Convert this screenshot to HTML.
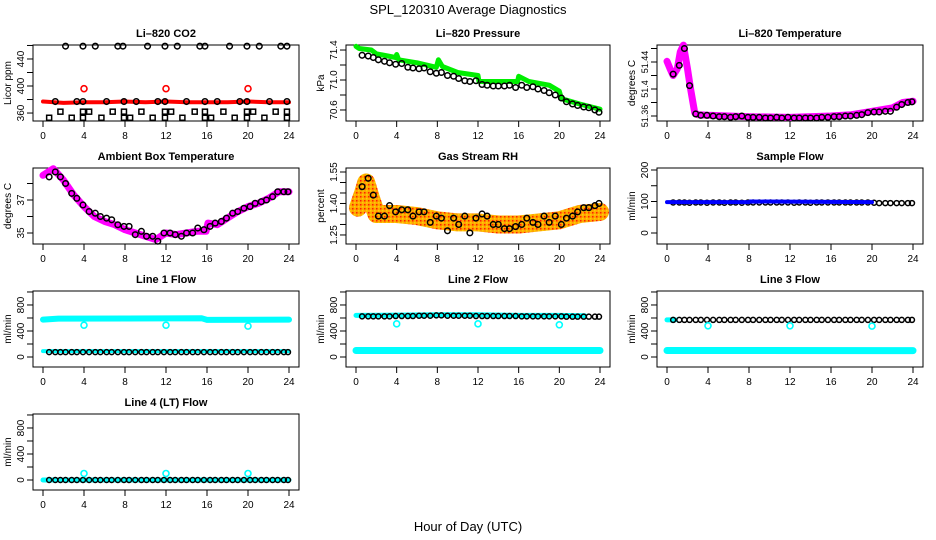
<!DOCTYPE html>
<html><head><meta charset="utf-8"><style>
html,body{margin:0;padding:0;background:#fff;}
svg{display:block;font-family:"Liberation Sans",sans-serif;}
</style></head><body>
<svg id="chart" width="936" height="540" viewBox="0 0 936 540" xmlns="http://www.w3.org/2000/svg">
<defs>
<pattern id="rhpat" width="4" height="4" patternUnits="userSpaceOnUse">
<rect width="4" height="4" fill="#FFA500"/><rect width="1.5" height="1.5" fill="#FF2000"/><rect x="2" y="2" width="1.5" height="1.5" fill="#FFD000"/>
</pattern>
</defs>
<text x="468" y="14" text-anchor="middle" font-size="13">SPL_120310  Average Diagnostics</text>
<text x="468" y="531" text-anchor="middle" font-size="13">Hour of Day (UTC)</text>
</svg>
<script>
// ---- data ----
const blackHours = [0.6,1.2,1.7,2.2,2.8,3.3,3.9,4.5,5.1,5.6,6.2,6.7,7.3,7.9,8.4,9.0,9.6,10.1,10.7,11.2,11.8,12.4,12.9,13.5,14.0,14.6,15.1,15.7,16.3,16.8,17.4,17.9,18.5,19.0,19.6,20.2,20.7,21.3,21.8,22.4,22.9,23.5,23.9];
const xTicks = [0,4,8,12,16,20,24];
// CO2
const co2RedHours = [0,2,4,6,8,10,12,14,16,18,20,22,24];
const co2RedVals = [377,375,376,376,377,376,377,376,376,376,377,376,376];
const co2SpikeHours = [4,12,20];
const co2SpikeVals = [396,396,396];
const co2TopHours = [2.2,3.9,5.1,7.3,7.8,10.2,11.9,13.1,15.3,15.8,18.2,19.9,21.1,23.2,23.8];
const co2TopVals = [459,459,459,459,459,459,459,459,459,459,459,459,459,459,459];
const co2MidHours = [1.2,3.3,3.9,6.2,7.9,9.1,11.2,11.9,14.0,15.8,17.0,19.2,19.9,22.1,23.8];
const co2MidVals = [377,377,377,377,377,377,377,377,377,377,377,377,377,377,377];
const co2LowHours = [1.7,3.9,4.5,6.8,7.9,9.6,11.9,12.5,14.8,15.8,17.6,19.9,20.5,22.7,23.8];
const co2LowVals = [362,362,362,362,362,362,362,362,362,362,362,362,362,362,362];
const co2BotHours = [0.6,2.8,3.9,5.7,7.9,8.5,10.7,11.9,13.6,15.8,16.4,18.7,19.9,21.6,23.8];
const co2BotVals = [353,353,353,353,353,353,353,353,353,353,353,353,353,353,353];
// Pressure
const presGreenHours = [0,0.3,1.5,2,3.9,4,4.2,6,7.9,8.1,8.5,10,12,12.1,15.9,16,17,19,20,20.2,22,24];
const presGreenVals = [71.45,71.42,71.40,71.35,71.30,71.34,71.27,71.23,71.17,71.27,71.18,71.10,71.06,70.98,70.98,71.05,70.98,70.93,70.85,70.75,70.68,70.61];
const presBlack = [71.33,71.32,71.30,71.27,71.25,71.23,71.21,71.22,71.17,71.16,71.15,71.16,71.11,71.09,71.10,71.06,71.05,71.02,70.99,70.98,70.99,70.94,70.93,70.92,70.92,70.92,70.93,70.90,70.93,70.90,70.91,70.88,70.86,70.83,70.80,70.76,70.71,70.68,70.66,70.64,70.63,70.60,70.57];
// Li-820 temperature
const ltHours = [0,0.3,0.6,1,1.3,1.6,2,2.3,2.7,3,4,8,12,16,18,20,22,23,24];
const ltVals = [51.441,51.43,51.42,51.43,51.455,51.465,51.43,51.40,51.365,51.362,51.361,51.359,51.358,51.36,51.362,51.367,51.372,51.38,51.382];
const ltBlack = [51.422,51.435,51.46,51.405,51.363,51.361,51.361,51.360,51.359,51.359,51.358,51.359,51.360,51.358,51.358,51.358,51.357,51.357,51.358,51.357,51.358,51.357,51.357,51.357,51.357,51.357,51.358,51.358,51.359,51.359,51.360,51.360,51.361,51.362,51.365,51.366,51.366,51.367,51.367,51.373,51.377,51.380,51.381];
// Ambient box temperature
const ambHours = [0,1,2,3,4,5,6,7,8,9,10,11,12,13,14,15,15.9,16.1,17,18,19,20,21,22,23,24];
const ambVals = [38.5,38.9,38.2,37.3,36.6,36.0,35.7,35.5,35.2,35.0,34.8,34.6,35.0,34.9,35.0,35.1,35.1,35.6,35.5,35.9,36.3,36.6,36.8,37.1,37.5,37.5];
const ambBlack = [38.4,38.7,38.4,38.0,37.4,37.1,36.7,36.3,36.2,36.0,35.9,35.8,35.5,35.4,35.4,34.9,35.1,34.8,34.8,34.5,35.0,35.0,34.9,34.8,35.0,35.0,35.3,35.2,35.4,35.6,35.7,35.9,36.2,36.3,36.5,36.6,36.8,36.9,37.0,37.2,37.5,37.5,37.5];
// Gas stream RH
const rhHours = [0.2,0.7,1.0,1.5,2,4,6,8,10,12,14,16,18,20,22,24];
const rhVals = [1.38,1.45,1.50,1.42,1.35,1.35,1.34,1.32,1.31,1.31,1.30,1.30,1.31,1.32,1.35,1.36];
const rhBlack = [1.48,1.52,1.44,1.34,1.34,1.39,1.36,1.37,1.37,1.34,1.36,1.36,1.31,1.34,1.33,1.27,1.33,1.30,1.34,1.26,1.33,1.35,1.34,1.30,1.30,1.28,1.28,1.29,1.30,1.33,1.31,1.30,1.34,1.31,1.34,1.30,1.33,1.34,1.36,1.38,1.38,1.39,1.40];
// Sample flow
const sfBlueHours = [0,8,8.1,20];
const sfBlueVals = [98,98,100,98];
const sfBlack = [97,97,97,96,97,97,96,97,97,96,97,97,96,97,97,97,97,97,97,97,97,96,97,97,96,97,97,97,97,97,97,97,97,97,97,96,95,95,95,95,95,95,95];
// Line flows
const l1CyanHours = [0,1.5,15.5,16,24];
const l1CyanVals = [575,590,595,570,575];
const l1LowHours = [0,24];
const l1LowVals = [90,90];
const l1Black = [75,75,75,75,75,75,75,75,75,75,75,75,75,75,75,75,75,75,75,75,75,75,75,75,75,75,75,75,75,75,75,75,75,75,75,75,75,75,75,75,75,75,75];
const spikeHours = [4,12,20];
const l1Spike = [490,490,475];
const l2CyanHours = [0,4,8,12,16,20,22.5];
const l2CyanVals = [640,645,650,650,640,640,635];
const l2LowHours = [0,24];
const l2LowVals = [100,100];
const l2Black = [625,625,625,625,625,625,630,630,630,630,635,635,635,640,640,635,635,635,635,635,630,630,630,630,630,630,630,630,625,625,625,625,625,625,625,625,620,620,620,620,620,620,620];
const l2Spike = [510,510,495];
const l3CyanHours = [0,0.8];
const l3CyanVals = [570,570];
const l3LowHours = [0,24];
const l3LowVals = [100,98];
const l3Black = [570,570,570,570,570,570,570,570,570,570,570,570,570,570,570,570,570,570,570,570,570,570,570,570,570,570,570,570,570,570,570,570,570,570,570,570,570,570,570,570,570,570,570];
const l3Spike = [480,480,475];
const l4CyanHours = [0,24];
const l4CyanVals = [0,0];
const l4Black = [0,0,0,0,0,0,0,0,0,0,0,0,0,0,0,0,0,0,0,0,0,0,0,0,0,0,0,0,0,0,0,0,0,0,0,0,0,0,0,0,0,0,0];
const l4Spike = [100,100,100];

// ---- drawing ----
const NS = "http://www.w3.org/2000/svg";
const svg = document.getElementById('chart');
function mk(tag, parent, attrs){
  const e = document.createElementNS(NS, tag);
  for (const k in attrs) e.setAttribute(k, attrs[k]);
  parent.appendChild(e);
  return e;
}
const cols = [{x0:43,x24:289},{x0:356,x24:600},{x0:667,x24:913}];
const rowTops = [45,168,291,414];
const BOXH = 76;

function makePanel(name, col, row, title, ylabel, yBot, yTop, ticks, labels, lblSize){
  const c = cols[col];
  const left = c.x0 - 10, right = c.x24 + 10;
  const top = rowTops[row], bot = top + BOXH;
  const g = mk('g', svg, {});
  
  
  const xs = h => c.x0 + (h/24)*(c.x24 - c.x0);
  const ys = v => bot - (v - yBot)/(yTop - yBot)*(bot - top);
  const t = mk('text', g, {x:(left+right)/2, y:top-8, 'text-anchor':'middle', 'font-size':'11', 'font-weight':'bold'});
  t.textContent = title;
  
  
  const box = mk('rect', g, {x:left, y:top, width:right-left, height:bot-top, fill:'none', stroke:'#000', 'stroke-width':1});
  
  
  const xa = mk('g', g, {});
  
  
  for (const h of xTicks){
    mk('line', xa, {x1:xs(h), x2:xs(h), y1:bot, y2:bot+6, stroke:'#000'});
    const tl = mk('text', xa, {x:xs(h), y:bot+18, 'text-anchor':'middle', 'font-size':'10'});
    tl.textContent = String(h);
    
    
  }
  const ya = mk('g', g, {});
  
  
  for (const v of ticks){
    const yy = ys(v);
    if (yy < top-1 || yy > bot+1) continue;
    mk('line', ya, {x1:left-6, x2:left, y1:yy, y2:yy, stroke:'#000'});
  }
  for (const v of labels){
    const yy = ys(v);
    const tl = mk('text', ya, {x:left-9, y:yy, 'text-anchor':'middle', 'font-size':String(lblSize||10), transform:`rotate(-90 ${left-9} ${yy})`});
    tl.textContent = String(v);
    
    
  }
  const yl = mk('text', g, {x:left-22, y:(top+bot)/2, 'text-anchor':'middle', 'font-size':'10', transform:`rotate(-90 ${left-22} ${(top+bot)/2})`});
  yl.textContent = ylabel;
  
  
  return {g, xs, ys};
}
function band(p, name, hours, vals, color, w){
  const pts = hours.map((h,i) => p.xs(h).toFixed(1)+','+p.ys(vals[i]).toFixed(1)).join(' ');
  const l = mk('polyline', p.g, {points:pts, fill:'none', stroke:color, 'stroke-width':w, 'stroke-linejoin':'round', 'stroke-linecap':'round'});
  
  
}
function circles(p, name, hours, vals, color, r, sw){
  const gg = mk('g', p.g, {});
  
  
  hours.forEach((h,i) => {
    const c = mk('circle', gg, {cx:p.xs(h), cy:p.ys(vals[i]), r:r, fill:'none', stroke:color, 'stroke-width':sw});
    
    
  });
}
function squares(p, name, hours, vals, color){
  const gg = mk('g', p.g, {});
  
  
  hours.forEach((h,i) => {
    const s = mk('rect', gg, {x:p.xs(h)-2.5, y:p.ys(vals[i])-2.5, width:5, height:5, fill:'none', stroke:color, 'stroke-width':1.5});
    
    
  });
}

let p = makePanel('co2', 0, 0, 'Li\u2013820 CO2', 'Licor ppm', 348.2, 460.7, [360,380,400,420,440,460], [360,400,440]);
band(p, 'co2-red-series', co2RedHours, co2RedVals, '#FF0000', 4);
circles(p, 'co2-red-spikes', co2SpikeHours, co2SpikeVals, '#FF0000', 3, 1.6);
circles(p, 'co2-top-points', co2TopHours, co2TopVals, '#000', 2.8, 1.5);
circles(p, 'co2-mid-points', co2MidHours, co2MidVals, '#000', 2.8, 1.5);
squares(p, 'co2-low-points', co2LowHours, co2LowVals, '#000');
squares(p, 'co2-bottom-points', co2BotHours, co2BotVals, '#000');

p = makePanel('pressure', 1, 0, 'Li\u2013820 Pressure', 'kPa', 70.453, 71.467, [70.6,70.8,71.0,71.2,71.4], ['70.6','71.0','71.4']);
band(p, 'pressure-green-series', presGreenHours, presGreenVals, '#00EE00', 5);
circles(p, 'pressure-black-points', blackHours, presBlack, '#000', 2.8, 1.5);

p = makePanel('li-temp', 2, 0, 'Li\u2013820 Temperature', 'degrees C', 51.3526, 51.4652, [51.36,51.38,51.40,51.42,51.44,51.46], ['51.36','51.4','51.44'], 9);
band(p, 'li-temp-magenta-series', ltHours, ltVals, '#FF00FF', 7);
circles(p, 'li-temp-black-points', blackHours, ltBlack, '#000', 2.8, 1.5);

p = makePanel('ambient', 0, 1, 'Ambient Box Temperature', 'degrees C', 34.333, 38.94, [35,36,37,38], [35,37]);
band(p, 'ambient-magenta-series', ambHours, ambVals, '#FF00FF', 7);
circles(p, 'ambient-black-points', blackHours, ambBlack, '#000', 2.8, 1.5);

p = makePanel('rh', 1, 1, 'Gas Stream RH', 'percent', 1.207, 1.569, [1.25,1.30,1.35,1.40,1.45,1.50,1.55], ['1.25','1.40','1.55']);
band(p, 'rh-orange-series', rhHours, rhVals, 'url(#rhpat)', 18);
circles(p, 'rh-black-points', blackHours, rhBlack, '#000', 2.8, 1.5);

p = makePanel('sample-flow', 2, 1, 'Sample Flow', 'ml/min', -34.9, 206.3, [0,50,100,150,200], [0,100,200]);
circles(p, 'sample-flow-black-points', blackHours, sfBlack, '#000', 2.5, 1.5);
band(p, 'sample-flow-blue-series', sfBlueHours, sfBlueVals, '#0000FF', 4);

p = makePanel('line1', 0, 2, 'Line 1 Flow', 'ml/min', -153.8, 1015, [0,200,400,600,800,1000], [0,400,800]);
band(p, 'line1-cyan-series', l1CyanHours, l1CyanVals, '#00FFFF', 6);
band(p, 'line1-cyan-low', l1LowHours, l1LowVals, '#00FFFF', 4);
circles(p, 'line1-black-points', blackHours, l1Black, '#000', 2.5, 1.5);
circles(p, 'line1-cyan-spikes', spikeHours, l1Spike, '#00FFFF', 3, 1.6);

p = makePanel('line2', 1, 2, 'Line 2 Flow', 'ml/min', -153.8, 1015, [0,200,400,600,800,1000], [0,400,800]);
band(p, 'line2-cyan-series', l2CyanHours, l2CyanVals, '#00FFFF', 5);
band(p, 'line2-cyan-low', l2LowHours, l2LowVals, '#00FFFF', 7);
circles(p, 'line2-black-points', blackHours, l2Black, '#000', 2.5, 1.5);
circles(p, 'line2-cyan-spikes', spikeHours, l2Spike, '#00FFFF', 3, 1.6);

p = makePanel('line3', 2, 2, 'Line 3 Flow', 'ml/min', -153.8, 1015, [0,200,400,600,800,1000], [0,400,800]);
band(p, 'line3-cyan-series', l3CyanHours, l3CyanVals, '#00FFFF', 5);
band(p, 'line3-cyan-low', l3LowHours, l3LowVals, '#00FFFF', 7);
circles(p, 'line3-black-points', blackHours, l3Black, '#000', 2.5, 1.5);
circles(p, 'line3-cyan-spikes', spikeHours, l3Spike, '#00FFFF', 3, 1.6);

p = makePanel('line4', 0, 3, 'Line 4 (LT) Flow', 'ml/min', -153.8, 1015, [0,200,400,600,800,1000], [0,400,800]);
band(p, 'line4-cyan-series', l4CyanHours, l4CyanVals, '#00FFFF', 5);
circles(p, 'line4-black-points', blackHours, l4Black, '#000', 2.5, 1.5);
circles(p, 'line4-cyan-spikes', spikeHours, l4Spike, '#00FFFF', 3, 1.6);
</script>
</body></html>
